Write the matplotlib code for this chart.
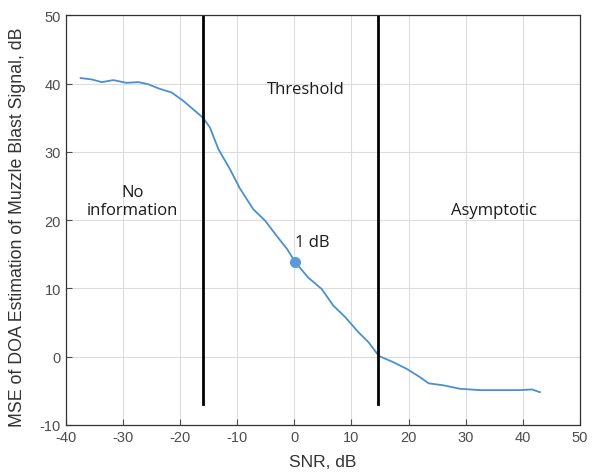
import matplotlib.pyplot as plt

# SNR (dB) and MSE (dB)
snr = [-37.4, -35.5, -33.7, -31.7, -29.4, -27.3, -25.6, -23.5, -21.5, -19.5,
       -17.4, -16.0, -14.8, -13.3, -11.3, -9.5, -7.2, -5.1, -3.1, -1.3,
       0.2, 2.4, 4.8, 6.8, 8.9, 11.2, 13.0, 14.8, 17.3, 19.7,
       22.0, 23.5, 26.1, 29.0, 32.5, 36.0, 39.5, 41.6, 43.0]
mse = [40.8, 40.6, 40.2, 40.5, 40.1, 40.2, 39.9, 39.2, 38.7, 37.5,
       36.0, 35.0, 33.6, 30.4, 27.5, 24.6, 21.6, 19.9, 17.7, 15.8,
       13.8, 11.6, 9.9, 7.5, 5.8, 3.6, 2.1, 0.1, -0.8, -1.8,
       -3.0, -3.9, -4.2, -4.7, -4.9, -4.9, -4.9, -4.8, -5.2]

region_bounds = [-16.0, 14.6]
marker_snr, marker_mse = 0.1, 13.8

plt.rcParams['font.family'] = ['Liberation Sans', 'DejaVu Sans']
plt.rcParams['axes.unicode_minus'] = False

fig = plt.figure(figsize=(5.93, 4.77), dpi=100)
ax = fig.add_axes([0.111, 0.107, 0.867, 0.859])

ax.plot(snr, mse, color='#4a90d0', linewidth=1.3)
for xb in region_bounds:
    ax.plot([xb, xb], [-7, 50], color='black', linewidth=2)
ax.plot(marker_snr, marker_mse, 'o', color='#5b9bd5', markersize=7)

txt = dict(fontfamily='Open Sans', fontsize=12, color='#1a1a1a')
ax.text(2.0, 39.2, 'Threshold', ha='center', va='center', **txt)
ax.text(-28.4, 22.8, 'No\ninformation', ha='center', va='center', linespacing=1.15, **txt)
ax.text(34.9, 21.5, 'Asymptotic', ha='center', va='center', **txt)
ax.text(0.2, 16.8, '1 dB', ha='left', va='center', **txt)

ax.set_xlim(-40, 50)
ax.set_ylim(-10, 50)
ax.set_xticks(range(-40, 51, 10))
ax.set_yticks(range(-10, 51, 10))
ax.grid(True, color='#dcdcdc', linewidth=0.8)
ax.set_axisbelow(True)
ax.tick_params(colors='#4d4d4d', labelsize=10.5, direction='in', length=4)
for s in ax.spines.values():
    s.set_color('#333333')
    s.set_linewidth(0.9)

ax.set_xlabel('SNR, dB', fontsize=12.5, color='#333333')
ax.set_ylabel('MSE of DOA Estimation of Muzzle Blast Signal, dB', fontsize=12.8, color='#333333')
ax.xaxis.set_label_coords(0.5, -0.071)
ax.yaxis.set_label_coords(-0.078, 0.485)

plt.savefig('out.png')
